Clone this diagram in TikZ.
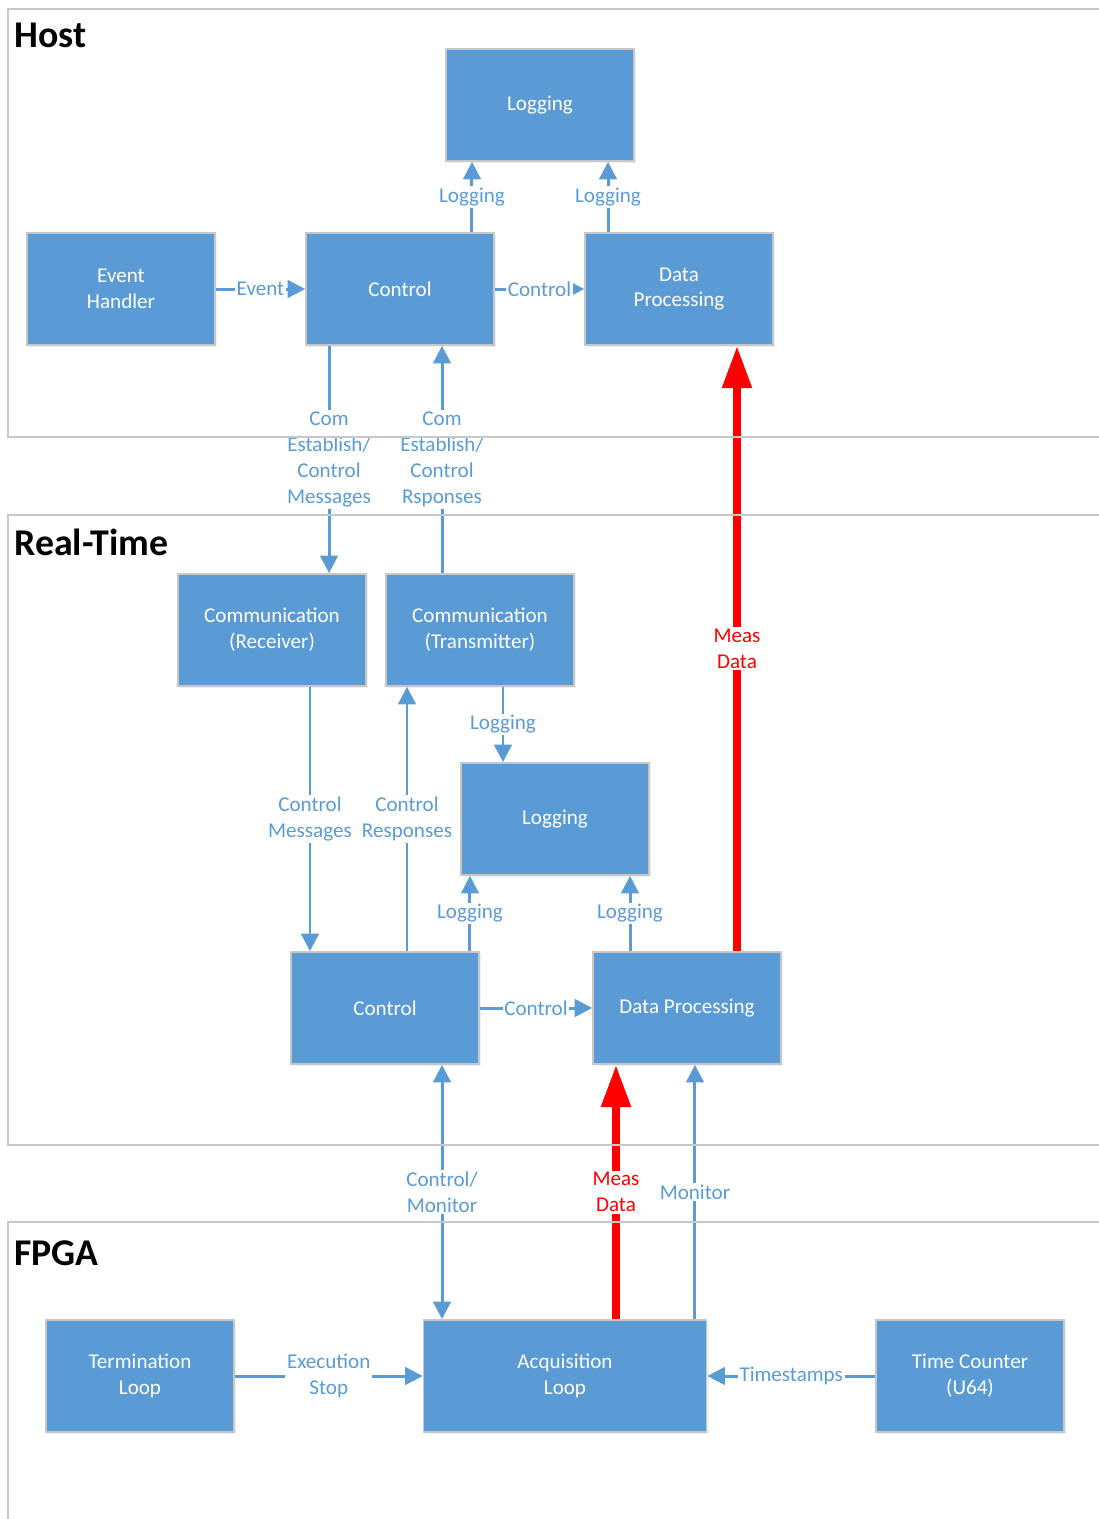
\documentclass[tikz,border=0pt]{standalone}
\usepackage{fontspec}
\setmainfont{Carlito}
\usetikzlibrary{arrows.meta,positioning,shadows}
\definecolor{boxblue}{HTML}{5B9BD5}
\definecolor{framegray}{HTML}{C8C8C8}
\tikzset{
myblock/.style={
  rectangle,
  draw=black!22,
  line width=1pt,
  fill=boxblue,
  text=white,
  minimum width=3.76cm,
  minimum height=2.24cm,
  align=center,
  font=\fontsize{12}{14.7}\selectfont,
  drop shadow={opacity=0.12,shadow xshift=1.2pt,shadow yshift=-1.2pt}
  },
mylabel/.style={
  fill=white,
  text=boxblue,
  inner sep=1pt,
  align=center,
  font=\fontsize{12}{14.7}\selectfont
  },
myarrow/.style={draw=boxblue, line width=1.7pt, ->},
mymeas/.style={draw=red, line width=4.5pt, -{Triangle[length=24pt,width=16pt]}},
myframe/.style={draw=framegray, line width=1.1pt},
mytitle/.style={anchor=base west, inner sep=0pt, font=\fontsize{21.5}{25}\selectfont\bfseries}
}

\begin{document}
\begin{tikzpicture}[x=0.02cm,y=-0.02cm,>={Triangle[length=10pt,width=10pt]}]
\useasboundingbox (0,0) rectangle (1099,1519);

% titles
\node[mytitle] (thost) at (14,47) {Host};
\node[mytitle] (trt) at (14,555) {Real-Time};
\node[mytitle] (tfpga) at (14,1265) {FPGA};

% host
\node[myblock] (hlog) at (540,105) {Logging};
\node[myblock] (hevt) at (121,289) {Event\\Handler};
\node[myblock] (hctl) at (400,289) {Control};
\node[myblock] (hdp) at (679,289) {Data\\Processing};

% real-time
\node[myblock] (rrcv) at (272,630) {Communication\\(Receiver)};
\node[myblock] (rxmt) at (480,630) {Communication\\(Transmitter)};
\node[myblock] (rlog) at (555,819) {Logging};
\node[myblock] (rctl) at (385,1008) {Control};
\node[myblock] (rdp) at (687,1008) {Data Processing};

% fpga
\node[myblock] (fterm) at (140,1376) {Termination\\Loop};
\node[myblock, minimum width=5.66cm] (facq) at (565,1376) {Acquisition\\Loop};
\node[myblock] (ftime) at (970,1376) {Time Counter\\(U64)};

% horizontal links
\draw[myarrow] (hevt) -- node[mylabel]{Event} (hctl);
\draw[myarrow] (hctl) -- node[mylabel]{Control} (hdp);
\draw[myarrow] (rctl) -- node[mylabel]{Control} (rdp);
\draw[myarrow] (fterm) -- node[mylabel]{Execution\\Stop} (facq);
\draw[myarrow] (ftime) -- node[mylabel]{Timestamps} (facq);

% host logging
\begin{scope}
\coordinate(start) at([xshift=1.44cm]hctl.north);
\coordinate(end) at(start |- hlog.south);
\draw[myarrow] (start) -- node[mylabel]{Logging} (end);
\end{scope}

\begin{scope}
\coordinate(start) at([xshift=-1.42cm]hdp.north);
\coordinate(end) at(start |- hlog.south);
\draw[myarrow] (start) -- node[mylabel]{Logging} (end);
\end{scope}

% host <-> real-time
\begin{scope}
\coordinate(start) at([xshift=-1.42cm]hctl.south);
\coordinate(end) at(start |- rrcv.north);
\draw[myarrow] (start) -- node[mylabel]{Com\\Establish/\\Control\\Messages} (end);
\end{scope}

\begin{scope}
\coordinate(start) at([xshift=-0.76cm]rxmt.north);
\coordinate(end) at(start |- hctl.south);
\draw[myarrow] (start) -- node[mylabel]{Com\\Establish/\\Control\\Rsponses} (end);
\end{scope}

\begin{scope}
\coordinate(start) at([xshift=1cm]rdp.north);
\coordinate(end) at(start |- hdp.south);
\draw[mymeas] (start) -- node[mylabel, text=red]{Meas\\Data} (end);
\end{scope}

% real-time
\begin{scope}
\coordinate(start) at([xshift=0.76cm]rrcv.south);
\coordinate(end) at(start |- rctl.north);
\draw[myarrow] (start) -- node[mylabel]{Control\\Messages} (end);
\end{scope}

\begin{scope}
\coordinate(start) at([xshift=0.44cm]rctl.north);
\coordinate(end) at(start |- rxmt.south);
\draw[myarrow] (start) -- node[mylabel]{Control\\Responses} (end);
\end{scope}

\begin{scope}
\coordinate(start) at([xshift=0.46cm]rxmt.south);
\coordinate(end) at(start |- rlog.north);
\draw[myarrow] (start) -- node[mylabel]{Logging} (end);
\end{scope}

\begin{scope}
\coordinate(start) at([xshift=1.7cm]rctl.north);
\coordinate(end) at(start |- rlog.south);
\draw[myarrow] (start) -- node[mylabel]{Logging} (end);
\end{scope}

\begin{scope}
\coordinate(start) at([xshift=-1.14cm]rdp.north);
\coordinate(end) at(start |- rlog.south);
\draw[myarrow] (start) -- node[mylabel]{Logging} (end);
\end{scope}

% fpga <-> real-time
\begin{scope}
\coordinate(start) at([xshift=-2.46cm]facq.north);
\coordinate(end) at(start |- rctl.south);
\draw[myarrow, <->] (start) -- node[mylabel]{Control/\\Monitor} (end);
\end{scope}

\begin{scope}
\coordinate(start) at([xshift=1.02cm]facq.north);
\coordinate(end) at(start |- rdp.south);
\draw[mymeas] (start) -- node[mylabel, text=red]{Meas\\Data} (end);
\end{scope}

\begin{scope}
\coordinate(start) at([xshift=2.6cm]facq.north);
\coordinate(end) at(start |- rdp.south);
\draw[myarrow] (start) -- node[mylabel]{Monitor} (end);
\end{scope}

% frames
\draw[myframe] (8,9) rectangle (1120,437);
\draw[myframe] (8,515) rectangle (1120,1145);
\draw[myframe] (8,1222) rectangle (1120,1540);

\end{tikzpicture}
\end{document}
